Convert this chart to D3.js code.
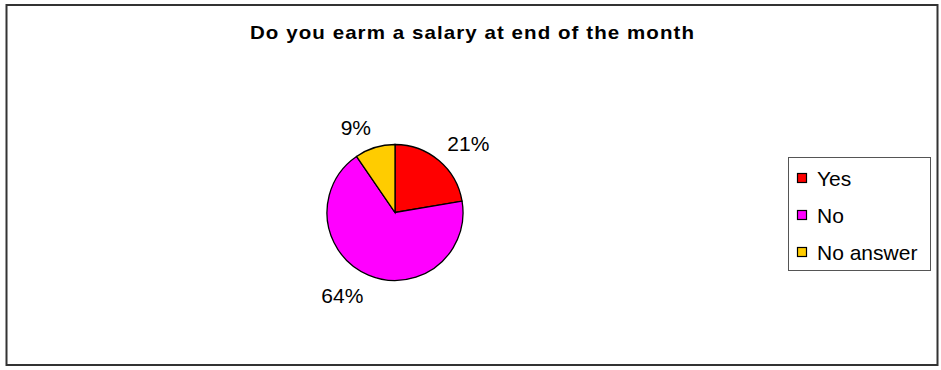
<!DOCTYPE html>
<html>
<head>
<meta charset="utf-8">
<script src="https://cdn.jsdelivr.net/npm/d3@7"></script>
<style>
  html, body { margin: 0; padding: 0; background: #fff; }
  svg { display: block; font-family: "Liberation Sans", Arial, sans-serif; }
</style>
</head>
<body>
<svg id="chart" width="941" height="370"></svg>
<script>
// Survey answers and their slice colours
const categories = ["Yes", "No", "No answer"];
const values = [21, 64, 9];
const labels = ["21%", "64%", "9%"];
const colors = ["#ff0000", "#ff00ff", "#ffcc00"];

const svg = d3.select("#chart");

// Outer frame
svg.append("rect")
  .attr("x", 6.5).attr("y", 5)
  .attr("width", 931).attr("height", 360)
  .attr("fill", "#fff").attr("stroke", "#333").attr("stroke-width", 2);

// Title, drawn slightly widened
const titleScale = 1.14;
svg.append("text")
  .attr("transform", `translate(250,39) scale(${titleScale},1)`)
  .attr("font-size", 18).attr("font-weight", "bold")
  .attr("textLength", 444 / titleScale).attr("lengthAdjust", "spacing")
  .text("Do you earm a salary at end of the month");

// Pie
const cx = 395, cy = 212.5, r = 68;
const pie = d3.pie().sort(null).value(d => d.value);
const arcs = pie(categories.map((c, i) => ({ name: c, value: values[i], label: labels[i], color: colors[i] })));
const arc = d3.arc().innerRadius(0).outerRadius(r);

const g = svg.append("g").attr("transform", `translate(${cx},${cy})`);
g.selectAll("path.slice")
  .data(arcs)
  .join("path")
  .attr("class", "slice")
  .attr("d", arc)
  .attr("fill", d => d.data.color)
  .attr("stroke", "#000").attr("stroke-width", 1.3);

// Percentage labels: the corner of each label nearest the pie sits on a
// circle just outside the rim, along the slice's middle angle.
const labelR = r + 13, capH = 15.5;
g.selectAll("text.pct")
  .data(arcs)
  .join("text")
  .attr("class", "pct")
  .attr("font-size", 21)
  .each(function (d) {
    const a = (d.startAngle + d.endAngle) / 2;
    const px = labelR * Math.sin(a), py = -labelR * Math.cos(a);
    d3.select(this)
      .attr("text-anchor", Math.sin(a) >= 0 ? "start" : "end")
      .attr("x", px)
      .attr("y", Math.cos(a) >= 0 ? py : py + capH);
  })
  .text(d => d.data.label);

// Legend
const legend = svg.append("g");
legend.append("rect")
  .attr("x", 788.5).attr("y", 157.5)
  .attr("width", 142).attr("height", 113)
  .attr("fill", "#fff").attr("stroke", "#555").attr("stroke-width", 1);

const legendY = d3.scalePoint().domain(categories).range([178, 252]);
const item = legend.selectAll("g.item")
  .data(categories.map((c, i) => ({ name: c, color: colors[i] })))
  .join("g")
  .attr("class", "item")
  .attr("transform", d => `translate(797,${legendY(d.name)})`);
item.append("rect")
  .attr("x", 0.5).attr("y", -4.5)
  .attr("width", 9).attr("height", 9)
  .attr("fill", d => d.color)
  .attr("stroke", "#000").attr("stroke-width", 1.2);
item.append("text")
  .attr("x", 20).attr("y", 7.5)
  .attr("font-size", 21)
  .text(d => d.name);
</script>
</body>
</html>
